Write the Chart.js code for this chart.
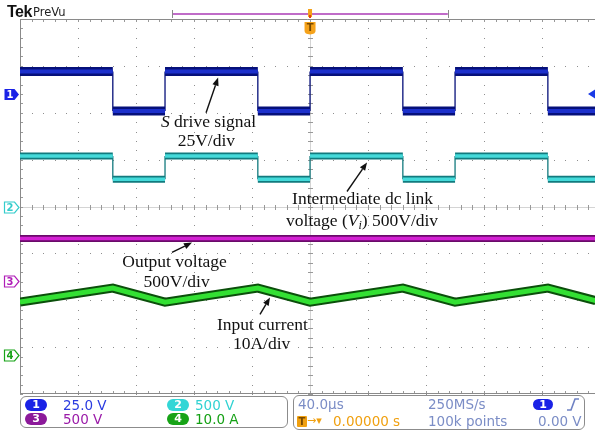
<!DOCTYPE html>
<html lang="en">
<head>
<meta charset="UTF-8">
<title>Converter waveforms</title>
<script src="https://cdn.jsdelivr.net/npm/chart.js"></script>
<style>
  body { margin: 0; width: 595px; height: 433px; overflow: hidden; background: #fff; font-family: "DejaVu Sans", sans-serif; }
  .wrap { position: relative; width: 595px; height: 433px; }
  #scope { position: absolute; left: 0; top: 0; }
  .abs { position: absolute; white-space: nowrap; line-height: 14px; }
  .tek { left: 7px; top: 3px; font: bold 16px "Liberation Sans", sans-serif; color: #111; letter-spacing: -0.5px; }
  .prevu { left: 33px; top: 5px; font-size: 11.5px; color: #222; }
  .panel { position: absolute; border: 1.5px solid #8c8c8c; border-radius: 6px; box-sizing: border-box; }
  .pill { position: absolute; width: 22px; height: 12px; border-radius: 6px; color: #fff; font: bold 11px "DejaVu Sans", sans-serif; line-height: 12px; text-align: center; }
  .st { position: absolute; white-space: nowrap; font-size: 13.5px; line-height: 14px; }
  .dim { color: #7b8dc6; }
  .orange { color: #f0a010; }
</style>
</head>
<body>
<div class="wrap">
  <canvas id="scope" width="595" height="433"></canvas>

  <div class="abs tek">Tek</div>
  <div class="abs prevu">PreVu</div>

  <!-- vertical settings -->
  <div class="panel" style="left:20px; top:396px; width:268px; height:32px;"></div>
  <div class="pill" style="left:25px; top:399px; background:#1a22e6;">1</div>
  <div class="st" style="left:63px; top:398px; color:#2a3be0;">25.0 V</div>
  <div class="pill" style="left:25px; top:413px; background:#8c1a9a;">3</div>
  <div class="st" style="left:63px; top:412px; color:#9a1aa8;">500 V</div>
  <div class="pill" style="left:167px; top:399px; background:#33d6d6;">2</div>
  <div class="st" style="left:195px; top:398px; color:#30d2d2;">500 V</div>
  <div class="pill" style="left:167px; top:413px; background:#17a317;">4</div>
  <div class="st" style="left:195px; top:412px; color:#14a014;">10.0 A</div>

  <!-- horizontal / trigger settings -->
  <div class="panel" style="left:293px; top:395px; width:292px; height:35px;"></div>
  <div class="st dim" style="left:298px; top:397px;">40.0µs</div>
  <div class="st dim" style="left:428px; top:397px;">250MS/s</div>
  <div class="pill" style="left:533px; top:399px; width:20px; height:11px; line-height:11px; background:#1a22e6;">1</div>
  <svg style="position:absolute; left:566px; top:398px;" width="14" height="13">
    <polyline points="1,12 5,12 9,1 13,1" fill="none" stroke="#6f82c4" stroke-width="1.6"/>
  </svg>
  <div class="pill" style="left:297px; top:416px; width:10px; height:11px; line-height:11px; border-radius:1px; background:#f0a010; color:#7a4a00; font-size:10px;">T</div>
  <div class="st orange" style="left:307px; top:414px; font-size:11px;">→▾</div>
  <div class="st orange" style="left:333px; top:414px;">0.00000 s</div>
  <div class="st dim" style="left:428px; top:414px;">100k points</div>
  <div class="st dim" style="left:538px; top:414px;">0.00 V</div>
</div>

<script>
  // time base 40 us/div, trigger at t = 0
  const edgeTimes = [-200, -136, -100, -36, 0, 64, 100, 164, 197];
  // S gate drive (ch1), volts, level after each edge
  const driveV = [12, -9, 12, -9, 12, -9, 12, -9, -9];
  // intermediate dc link voltage Vi (ch2), volts
  const linkV = [540, 290, 540, 290, 540, 290, 540, 290, 290];
  // output voltage (ch3), volts
  const outTimes = [-200, 197];
  const outV = [455, 455];
  // input current (ch4), amps, at each edge time
  const currentA = [11.3, 14.3, 11.3, 14.3, 11.3, 14.3, 11.3, 14.3, 11.6];

  // scope channel settings: units per division, ground marker position in divisions
  const chScale = [25, 500, 500, 10];
  const chOffset = [2.4, 0, -1.59, -3.17];
  const chColor = ['#1a22e6', '#33cccc', '#b01cb8', '#17a317'];

  // labels with arrows, positions in (us, div)
  const notes = [
    { at: [-70, 1.79], parts: [['S', 'i'], [' drive signal', '']] },
    { at: [-71.5, 1.38], parts: [['25V/div', '']] },
    { at: [36.2, 0.15], parts: [['Intermediate dc link', '']] },
    { at: [35.9, -0.32], parts: [['voltage (', ''], ['V', 'i'], ['i', 'is'], [') 500V/div', '']] },
    { at: [-93.4, -1.19], parts: [['Output voltage', '']] },
    { at: [-92, -1.62], parts: [['500V/div', '']] },
    { at: [-32.8, -2.54], parts: [['Input current', '']] },
    { at: [-33.4, -2.94], parts: [['10A/div', '']] }
  ];
  const arrows = [
    [-71.7, 2.0, -63.4, 2.75],
    [25.5, 0.32, 39.3, 0.94],
    [-95.2, -0.98, -81.4, -0.77],
    [-34.5, -2.3, -27.6, -1.94]
  ];

  function toDiv(ch, v) { return chOffset[ch] + v / chScale[ch]; }

  // square waves get a duplicate point at each edge so the edge is its own segment
  function points(times, vals, ch, stepped) {
    const pts = [];
    times.forEach((t, i) => {
      if (stepped && i > 0) pts.push({ x: t, y: toDiv(ch, vals[i - 1]) });
      pts.push({ x: t, y: toDiv(ch, vals[i]) });
    });
    return pts;
  }

  const isEdge = c => c.p0.parsed.x === c.p1.parsed.x;

  const traces = [
    { data: points(edgeTimes, driveV, 0, true), outer: '#06107a', inner: '#1c30cc', wo: 9, wi: 4 },
    { data: points(edgeTimes, linkV, 1, true), outer: '#127a7e', inner: '#44dada', wo: 7, wi: 3.5 },
    { data: points(outTimes, outV, 2, false), outer: '#6a0a6a', inner: '#d420d4', wo: 7, wi: 3.5 },
    { data: points(edgeTimes, currentA, 3, false), outer: '#0b4f0b', inner: '#33e033', wo: 9, wi: 5 }
  ];

  const datasets = [];
  traces.forEach(tr => {
    datasets.push({
      data: tr.data, order: 2, pointRadius: 0, tension: 0, borderCapStyle: 'butt',
      borderColor: tr.outer, borderWidth: tr.wo,
      segment: { borderWidth: c => isEdge(c) ? 1.3 : tr.wo }
    });
    datasets.push({
      data: tr.data, order: 1, pointRadius: 0, tension: 0, borderCapStyle: 'butt',
      borderColor: tr.inner, borderWidth: tr.wi,
      segment: { borderColor: c => isEdge(c) ? 'rgba(0,0,0,0)' : tr.inner }
    });
  });

  // dotted graticule, border, centre lines and minor tick marks
  const graticule = {
    id: 'graticule',
    beforeDatasetsDraw(chart) {
      const { ctx, chartArea: a, scales: { x, y } } = chart;
      const x0 = Math.round(x.getPixelForValue(0)) + 0.5;
      const y0 = Math.round(y.getPixelForValue(0)) + 0.5;
      ctx.save();

      // dots on every major line, one per minor division
      ctx.fillStyle = '#8e8e8e';
      for (let t = -160; t <= 160; t += 40) {
        const px = Math.round(x.getPixelForValue(t));
        for (let i = -20; i <= 20; i++) ctx.fillRect(px, Math.round(y.getPixelForValue(i / 5)), 1, 1);
      }
      for (let v = -3; v <= 3; v++) {
        const py = Math.round(y.getPixelForValue(v));
        for (let t = -200; t <= 200; t += 8) ctx.fillRect(Math.round(x.getPixelForValue(t)), py, 1, 1);
      }

      ctx.lineWidth = 1;
      ctx.strokeStyle = '#d4d4d4';
      ctx.beginPath();
      ctx.moveTo(a.left, y0); ctx.lineTo(a.right, y0);
      ctx.moveTo(x0, a.top); ctx.lineTo(x0, a.bottom);
      ctx.stroke();

      ctx.strokeStyle = '#999';
      ctx.beginPath();
      for (let t = -200; t <= 200; t += 8) {
        const px = Math.round(x.getPixelForValue(t)) + 0.5;
        if (px > a.right) break;
        ctx.moveTo(px, a.top); ctx.lineTo(px, a.top + 3);
        ctx.moveTo(px, a.bottom - 3); ctx.lineTo(px, a.bottom);
        ctx.moveTo(px, y0 - 2.5); ctx.lineTo(px, y0 + 2.5);
      }
      for (let i = -20; i <= 20; i++) {
        const py = Math.round(y.getPixelForValue(i / 5)) + 0.5;
        ctx.moveTo(a.left, py); ctx.lineTo(a.left + 3, py);
        ctx.moveTo(x0 - 2.5, py); ctx.lineTo(x0 + 2.5, py);
      }
      ctx.stroke();

      ctx.strokeStyle = '#8a8a8a';
      ctx.beginPath();
      ctx.moveTo(a.right, a.top + 0.5); ctx.lineTo(a.left + 0.5, a.top + 0.5);
      ctx.lineTo(a.left + 0.5, a.bottom - 0.5); ctx.lineTo(a.right, a.bottom - 0.5);
      ctx.stroke();
      ctx.restore();
    }
  };

  function drawArrow(ctx, x1, y1, x2, y2) {
    const ang = Math.atan2(y2 - y1, x2 - x1);
    const L = 8, W = 3.2;
    const bx = x2 - L * Math.cos(ang), by = y2 - L * Math.sin(ang);
    ctx.beginPath(); ctx.moveTo(x1, y1); ctx.lineTo(bx, by); ctx.stroke();
    ctx.beginPath();
    ctx.moveTo(x2, y2);
    ctx.lineTo(bx + W * Math.sin(ang), by - W * Math.cos(ang));
    ctx.lineTo(bx - W * Math.sin(ang), by + W * Math.cos(ang));
    ctx.closePath(); ctx.fill();
  }

  function fontFor(st) {
    return (st.includes('i') ? 'italic ' : '') + (st.includes('s') ? '12px' : '17.5px') + ' "Liberation Serif", serif';
  }

  function drawRich(ctx, parts, cx, cy) {
    let w = 0;
    parts.forEach(([txt, st]) => { ctx.font = fontFor(st); w += ctx.measureText(txt).width; });
    let px = cx - w / 2;
    parts.forEach(([txt, st]) => {
      ctx.font = fontFor(st);
      ctx.fillText(txt, px, cy + (st.includes('s') ? 4 : 0));
      px += ctx.measureText(txt).width;
    });
  }

  // screen furniture: channel markers, trigger marks, record bar, labels
  const overlay = {
    id: 'overlay',
    afterDraw(chart) {
      const { ctx, scales: { x, y } } = chart;
      ctx.save();

      // annotations
      ctx.fillStyle = '#111'; ctx.strokeStyle = '#111'; ctx.lineWidth = 1.4;
      ctx.textBaseline = 'middle'; ctx.textAlign = 'left';
      notes.forEach(n => drawRich(ctx, n.parts, x.getPixelForValue(n.at[0]), y.getPixelForValue(n.at[1])));
      arrows.forEach(([t1, v1, t2, v2]) => drawArrow(ctx,
        x.getPixelForValue(t1), y.getPixelForValue(v1), x.getPixelForValue(t2), y.getPixelForValue(v2)));

      // channel ground markers
      ctx.font = 'bold 10px "DejaVu Sans", sans-serif';
      ctx.textAlign = 'center';
      chOffset.forEach((off, i) => {
        const cy = Math.round(y.getPixelForValue(off)) + 0.5;
        ctx.beginPath();
        ctx.moveTo(4.5, cy - 5.5); ctx.lineTo(14.5, cy - 5.5); ctx.lineTo(19, cy);
        ctx.lineTo(14.5, cy + 5.5); ctx.lineTo(4.5, cy + 5.5); ctx.closePath();
        ctx.lineWidth = 1.2;
        if (i === 0) {
          ctx.fillStyle = chColor[i]; ctx.fill();
          ctx.fillStyle = '#fff';
        } else {
          ctx.fillStyle = '#fff'; ctx.fill();
          ctx.strokeStyle = chColor[i]; ctx.stroke();
          ctx.fillStyle = chColor[i];
        }
        ctx.fillText(String(i + 1), 10, cy + 0.5);
      });

      // trigger level on ch1
      const ty = y.getPixelForValue(chOffset[0]);
      ctx.fillStyle = '#1a3ae6';
      ctx.beginPath();
      ctx.moveTo(588, ty); ctx.lineTo(595, ty - 4.5); ctx.lineTo(595, ty + 4.5); ctx.closePath(); ctx.fill();

      // record window bar
      const r0 = x.getPixelForValue(-95), r1 = x.getPixelForValue(95);
      ctx.strokeStyle = '#c06cc8'; ctx.lineWidth = 2;
      ctx.beginPath(); ctx.moveTo(r0, 14); ctx.lineTo(r1, 14); ctx.stroke();
      ctx.strokeStyle = '#8a8a8a'; ctx.lineWidth = 1;
      ctx.beginPath();
      ctx.moveTo(Math.round(r0) + 0.5, 10); ctx.lineTo(Math.round(r0) + 0.5, 18);
      ctx.moveTo(Math.round(r1) + 0.5, 10); ctx.lineTo(Math.round(r1) + 0.5, 18);
      ctx.stroke();

      // trigger position marks
      const tx = x.getPixelForValue(0);
      ctx.fillStyle = '#f5a21a';
      ctx.fillRect(tx - 2, 9, 4, 8);
      ctx.fillStyle = '#e04010';
      ctx.fillRect(tx - 1, 15, 2, 3);
      ctx.fillStyle = '#f5a21a';
      ctx.beginPath();
      ctx.moveTo(tx - 5.5, 22); ctx.lineTo(tx + 5.5, 22); ctx.lineTo(tx + 5.5, 31);
      ctx.quadraticCurveTo(tx + 5.5, 34, tx, 34.5);
      ctx.quadraticCurveTo(tx - 5.5, 34, tx - 5.5, 31);
      ctx.closePath(); ctx.fill();
      ctx.fillStyle = '#7a4a00';
      ctx.font = 'bold 10px "DejaVu Sans", sans-serif';
      ctx.fillText('T', tx, 28);

      ctx.restore();
    }
  };

  new Chart(document.getElementById('scope'), {
    type: 'line',
    data: { datasets },
    options: {
      responsive: false,
      animation: false,
      layout: { padding: { left: 20, top: 19, right: 0, bottom: 39 } },
      plugins: { legend: { display: false }, tooltip: { enabled: false } },
      scales: {
        x: {
          type: 'linear', min: -200, max: 196.5,
          ticks: { display: false, stepSize: 40 },
          grid: { display: false, drawTicks: false },
          border: { display: false }
        },
        y: {
          type: 'linear', min: -4, max: 4,
          ticks: { display: false, stepSize: 1 },
          grid: { display: false, drawTicks: false },
          border: { display: false }
        }
      }
    },
    plugins: [graticule, overlay]
  });
</script>
</body>
</html>
